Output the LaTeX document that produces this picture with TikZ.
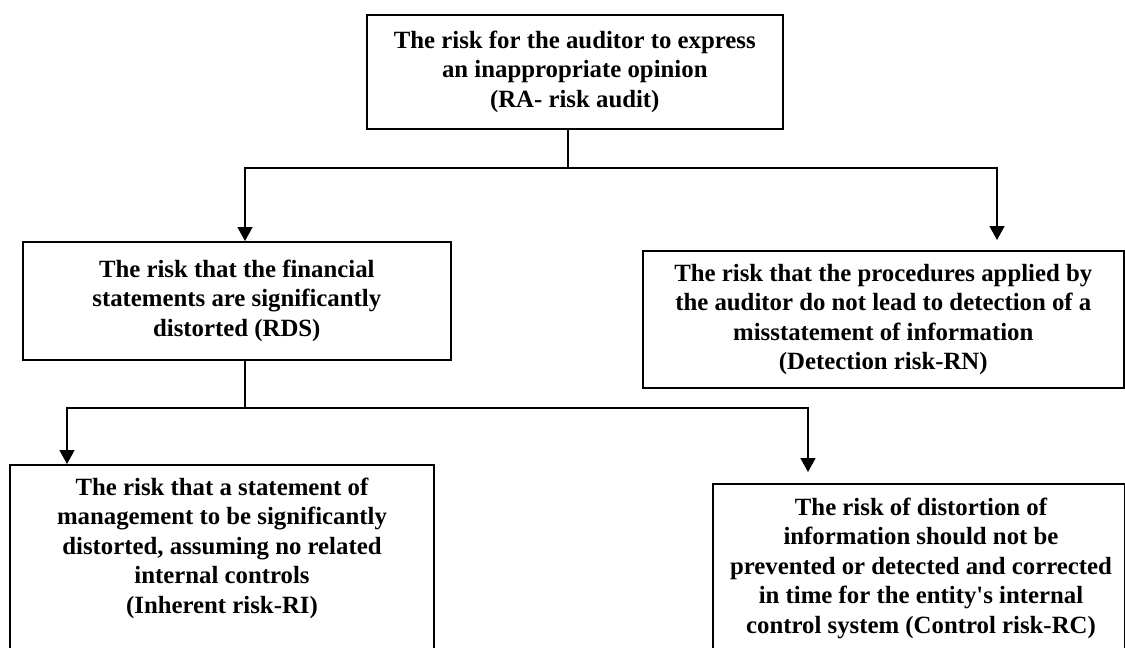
\documentclass[tikz,border=0pt]{standalone}
\usepackage{fontspec}
\setmainfont{Liberation Serif}
\usetikzlibrary{arrows.meta,calc}
\tikzset{
  box/.style={draw=black, line width=1.6pt, rectangle, inner sep=0pt, anchor=north west},
  txt/.style={align=center, font=\fontsize{24.8}{29.5}\selectfont\bfseries, inner sep=0pt},
  conn/.style={draw=black, line width=1.6pt},
  arr/.style={conn, -{Triangle[width=15pt,length=14pt]}}
}
\begin{document}
\begin{tikzpicture}[x=1pt,y=-1pt]
\useasboundingbox (0,0) rectangle (1125,648);
\fill[white] (0,0) rectangle (1125,648);
\clip (0,0) rectangle (1125,648);
% boxes
\node[box, minimum width=416pt, minimum height=114pt, txt] (top) at (366,14)
  {The risk for the auditor to express\\an inappropriate opinion\\(RA- risk audit)};
\node[box, minimum width=428pt, minimum height=118pt, txt] (rds) at (22,241)
  {The risk that the financial\\statements are significantly\\distorted (RDS)};
\node[box, minimum width=481pt, minimum height=137pt, txt] (rn) at (642,250)
  {The risk that the procedures applied by\\the auditor do not lead to detection of a\\misstatement of information\\(Detection risk-RN)};
\node[box, minimum width=424pt, minimum height=240pt] (ir) at (9,464) {};
\node[txt] (irt) at (222,548)
  {The risk that a statement of\\management to be significantly\\distorted, assuming no related\\internal controls\\(Inherent risk-RI)};
\node[box, minimum width=412pt, minimum height=220pt] (rc) at (712,483) {};
\node[txt] (rct) at (921,568)
  {The risk of distortion of\\information should not be\\prevented or detected and corrected\\in time for the entity\textquotesingle s internal\\control system (Control risk-RC)};
% junctions
\coordinate (j1) at (568,168);
\coordinate (aL) at (245,168);
\coordinate (aR) at (997,168);
\coordinate (j2) at (245,408);
\coordinate (bL) at (67,408);
\coordinate (bR) at (808,408);
% connectors
\draw[conn] (top.south -| j1) -- (j1);
\draw[arr] (j1) -| (rds.north -| aL);
\draw[arr, shorten >=10pt] (j1) -| (rn.north -| aR);
\draw[conn] (rds.south -| j2) -- (j2);
\draw[arr] (j2) -| (ir.north -| bL);
\draw[arr, shorten >=11pt] (j2) -| (rc.north -| bR);
\end{tikzpicture}
\end{document}
